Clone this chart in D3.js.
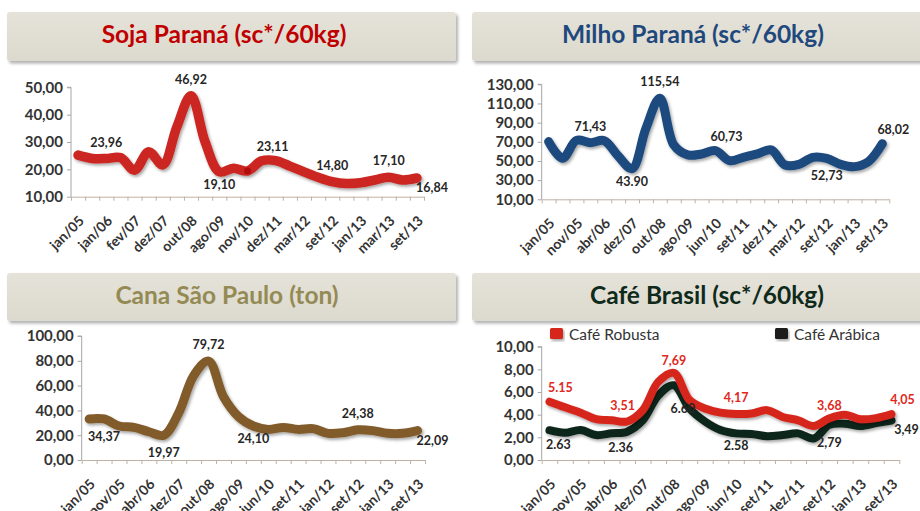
<!DOCTYPE html>
<html>
<head>
<meta charset="utf-8">
<script src="https://cdn.jsdelivr.net/npm/d3@7"></script>
<style>
  html, body { margin: 0; padding: 0; background: #fff; }
  svg { display: block; font-family: Lato, "Open Sans", sans-serif; }
</style>
</head>
<body>
<div id="chart"></div>
<script>
// ---- data ----
var sojaLabels = ["jan/05","jan/06","fev/07","dez/07","out/08","ago/09","nov/10","dez/11","mar/12","set/12","jan/13","mar/13","set/13"];
var sojaValues = [25.2, 24.0, 23.96, 24.3, 19.7, 26.4, 21.6, 35.6, 46.92, 30.0, 19.1, 20.4, 19.4,
                  23.11, 23.2, 21.2, 19.1, 17.1, 15.5, 14.8, 15.1, 16.1, 17.1, 16.1, 16.84];
var sojaNotes = [
  {i: 2, text: "23,96", pos: "above"}, {i: 8, text: "46,92", pos: "above"},
  {i: 10, text: "19,10", pos: "below"}, {i: 13, text: "23,11", pos: "aboveR"},
  {i: 18, text: "14,80", pos: "above"}, {i: 22, text: "17,10", pos: "above"},
  {i: 24, text: "16,84", pos: "right"}
];

var milhoLabels = ["jan/05","nov/05","abr/06","dez/07","out/08","ago/09","jun/10","set/11","dez/11","mar/12","set/12","jan/13","set/13"];
var milhoValues = [70.2, 52.8, 71.43, 69.1, 71.2, 55.2, 42.0, 84.1, 115.54, 66.7, 56.3, 57.3, 60.73,
                   50.3, 53.8, 57.3, 61.5, 45.8, 46.5, 53.8, 52.73, 46.5, 44.1, 49.3, 68.02];
var milhoNotes = [
  {i: 3, text: "71,43", pos: "above"}, {i: 8, text: "115,54", pos: "above"},
  {i: 6, text: "43.90", pos: "below"}, {i: 12, text: "60,73", pos: "aboveR"},
  {i: 20, text: "52,73", pos: "belowFar"}, {i: 24, text: "68,02", pos: "aboveR"}
];

var canaLabels = ["jan/05","nov/05","abr/06","dez/07","out/08","ago/09","jun/10","set/11","jan/12","set/12","jan/13","set/13"];
var canaValues = [33.1, 33.1, 27.4, 26.3, 22.8, 19.97, 38.0, 68.0, 79.72, 51.0, 35.0, 27.4,
                  24.7, 26.3, 24.7, 25.3, 21.5, 22.0, 24.38, 23.7, 21.5, 21.5, 23.7];
var canaNotes = [
  {i: 1, text: "34,37", pos: "belowFar"}, {i: 5, text: "19,97", pos: "belowFar"},
  {i: 8, text: "79,72", pos: "above"}, {i: 11, text: "24,10", pos: "below"},
  {i: 18, text: "24,38", pos: "above"}, {i: 22, text: "22,09", pos: "right"}
];

var cafeLabels = ["jan/05","nov/05","abr/06","dez/07","out/08","ago/09","jun/10","set/11","dez/11","set/12","jan/13","set/13"];
var robustaValues = [5.15, 4.65, 4.18, 3.6, 3.51, 3.4, 4.4, 6.9, 7.69, 5.3, 4.55, 4.18,
                     4.06, 4.1, 4.4, 3.8, 3.5, 3.0, 3.68, 4.0, 3.6, 3.7, 4.05];
var arabicaValues = [2.63, 2.4, 2.65, 2.2, 2.36, 2.5, 3.5, 5.7, 6.6, 4.55, 3.4, 2.65,
                     2.35, 2.3, 2.1, 2.2, 2.35, 1.9, 3.1, 3.2, 3.0, 3.25, 3.49];
var robustaNotes = [
  {i: 0, text: "5.15", pos: "aboveR"}, {i: 4, text: "3,51", pos: "aboveR"},
  {i: 8, text: "7,69", pos: "aboveNear"}, {i: 12, text: "4,17", pos: "above"},
  {i: 18, text: "3,68", pos: "aboveNear"}, {i: 22, text: "4,05", pos: "aboveR"}
];
var arabicaNotes = [
  {i: 0, text: "2.63", pos: "belowR"}, {i: 4, text: "2.36", pos: "belowR"},
  {i: 8, text: "6.60", pos: "belowFarR"}, {i: 12, text: "2.58", pos: "below"},
  {i: 18, text: "2,79", pos: "belowFar"}, {i: 22, text: "3,49", pos: "right"}
];

// ---- drawing ----
var W = 920, H = 511;
var svg = d3.select("#chart").append("svg").attr("width", W).attr("height", H);

var fmt = d3.formatLocale({decimal: ",", thousands: ".", grouping: [3], currency: ["R$", ""]}).format(".2f");

var defs = svg.append("defs");
var sh = defs.append("filter").attr("id", "lineShadow")
  .attr("x", "-10%").attr("y", "-20%").attr("width", "120%").attr("height", "140%");
sh.append("feDropShadow").attr("dx", 1.5).attr("dy", 2).attr("stdDeviation", 1.5)
  .attr("flood-color", "#000").attr("flood-opacity", 0.35);
var bs = defs.append("filter").attr("id", "boxShadow")
  .attr("x", "-5%").attr("y", "-20%").attr("width", "110%").attr("height", "150%");
bs.append("feDropShadow").attr("dx", 2).attr("dy", 2.5).attr("stdDeviation", 1.5)
  .attr("flood-color", "#000").attr("flood-opacity", 0.3);
var bg = defs.append("linearGradient").attr("id", "boxFill").attr("x1", 0).attr("y1", 0).attr("x2", 0).attr("y2", 1);
bg.append("stop").attr("offset", "0%").attr("stop-color", "#e5e2d9");
bg.append("stop").attr("offset", "100%").attr("stop-color", "#dcd9ce");

// label placement relative to the data point
var place = {
  above:     [0, -12],
  aboveNear: [0, -8],
  aboveR:    [11, -10],
  below:     [0, 17],
  belowFar:  [0, 22],
  belowR:    [9, 19],
  belowFarR: [9, 28],
  right:     [15, 14]
};

function titleBox(x, y, w, h, text, color, cx) {
  svg.append("rect").attr("x", x).attr("y", y).attr("width", w).attr("height", h)
    .attr("rx", 3).attr("fill", "url(#boxFill)").attr("filter", "url(#boxShadow)");
  svg.append("text").attr("x", cx).attr("y", y + 31)
    .attr("text-anchor", "middle").attr("font-size", 24.5).attr("font-weight", "bold")
    .attr("fill", color).text(text);
}

function panel(cfg) {
  var n = cfg.series[0].values.length;
  var g = svg.append("g");
  var xEdge = d3.scaleLinear().domain([0, n]).range([cfg.x0, cfg.x1]);
  var x = function(i) { return xEdge(i + 0.5); };
  var y = d3.scaleLinear().domain(cfg.domain).range([cfg.yBot, cfg.yTop]);

  // y axis
  var yAxis = d3.axisLeft(y).tickValues(cfg.ticks).tickFormat(fmt).tickSize(4).tickPadding(4);
  var ya = g.append("g").attr("transform", "translate(" + cfg.x0 + ",0)").call(yAxis);
  ya.select(".domain").attr("stroke", "#a6a6a6").attr("d", "M-4," + cfg.yTop + "H0V" + cfg.yBot);
  ya.selectAll(".tick line").attr("stroke", "#a6a6a6");
  ya.selectAll(".tick text").attr("font-size", 15).attr("font-weight", "bold")
    .attr("fill", "#333").attr("font-family", "Lato, sans-serif");

  // x axis: tick marks between categories
  var xAxis = d3.axisBottom(xEdge).tickValues(d3.range(n + 1)).tickFormat("").tickSize(4).tickSizeOuter(0);
  var xa = g.append("g").attr("transform", "translate(0," + cfg.yBot + ")").call(xAxis);
  xa.select(".domain").attr("stroke", "#bfb1a6");
  xa.selectAll(".tick line").attr("stroke", "#bfb1a6");

  // category labels on every second category
  g.selectAll(".xl").data(cfg.xLabels).enter().append("text")
    .attr("class", "xl")
    .attr("transform", function(d, k) {
      return "translate(" + (x(k * 2) + 0) + "," + (cfg.yBot + 18) + ") rotate(-45)";
    })
    .attr("text-anchor", "end").attr("dy", "0.7em")
    .attr("font-size", 14).attr("font-weight", "bold").attr("fill", "#333")
    .text(function(d) { return d; });

  var line = d3.line()
    .x(function(d, i) { return x(i); })
    .y(function(d) { return y(d); })
    .curve(d3.curveCatmullRom.alpha(0.5));

  cfg.series.forEach(function(s) {
    g.append("path").datum(s.values)
      .attr("fill", "none").attr("stroke", s.color).attr("stroke-width", s.width)
      .attr("stroke-linejoin", "round").attr("stroke-linecap", "round")
      .attr("filter", "url(#lineShadow)")
      .attr("d", line);
    if (s.marker != null) {
      g.append("circle").attr("cx", x(s.marker)).attr("cy", y(s.values[s.marker]))
        .attr("r", 3.5).attr("fill", "#b00d0d");
    }
  });

  cfg.series.forEach(function(s) {
    g.selectAll(null).data(s.notes).enter().append("text")
      .attr("x", function(d) { return x(d.i) + place[d.pos][0]; })
      .attr("y", function(d) { return y(s.values[d.i]) + place[d.pos][1]; })
      .attr("text-anchor", "middle").attr("font-size", 12.5).attr("font-weight", "bold")
      .attr("fill", s.noteColor)
      .text(function(d) { return d.text; });
  });
}

titleBox(7, 12, 449, 49, "Soja Paraná (sc*/60kg)", "#c00000", 224);
titleBox(472, 12, 460, 49, "Milho Paraná (sc*/60kg)", "#1f497d", 693);
titleBox(7, 273, 449, 48, "Cana São Paulo (ton)", "#948a54", 227);
titleBox(472, 273, 460, 48, "Café Brasil (sc*/60kg)", "#0f2a1a", 707);

panel({
  x0: 71, x1: 424, yTop: 87.3, yBot: 196.7, domain: [10, 50], ticks: [10, 20, 30, 40, 50],
  xLabels: sojaLabels,
  series: [{values: sojaValues, color: "#cb2720", width: 9.5, notes: sojaNotes, noteColor: "#262626", marker: 12}]
});

panel({
  x0: 541.7, x1: 889.3, yTop: 84.3, yBot: 199.3, domain: [10, 130], ticks: [10, 30, 50, 70, 90, 110, 130],
  xLabels: milhoLabels,
  series: [{values: milhoValues, color: "#1f4a7e", width: 9, notes: milhoNotes, noteColor: "#262626"}]
});

panel({
  x0: 81.7, x1: 425, yTop: 336, yBot: 460, domain: [0, 100], ticks: [0, 20, 40, 60, 80, 100],
  xLabels: canaLabels,
  series: [{values: canaValues, color: "#815b2b", width: 9, notes: canaNotes, noteColor: "#262626"}]
});

panel({
  x0: 541.7, x1: 899.3, yTop: 346.7, yBot: 460, domain: [0, 10], ticks: [0, 2, 4, 6, 8, 10],
  xLabels: cafeLabels,
  series: [
    {values: arabicaValues, color: "#10251a", width: 8, notes: arabicaNotes, noteColor: "#262626"},
    {values: robustaValues, color: "#d6281e", width: 8, notes: robustaNotes, noteColor: "#e0281c"}
  ]
});

// legend of the coffee chart
var legend = [{name: "Café Robusta", color: "#d6281e", x: 550}, {name: "Café Arábica", color: "#1a1a1a", x: 775}];
var lg = svg.selectAll(".lg").data(legend).enter().append("g").attr("class", "lg")
  .attr("transform", function(d) { return "translate(" + d.x + ",328)"; });
lg.append("rect").attr("width", 13).attr("height", 11).attr("rx", 1.5)
  .attr("fill", function(d) { return d.color; }).attr("filter", "url(#lineShadow)");
lg.append("text").attr("x", 19).attr("y", 12).attr("font-size", 15.5).attr("fill", "#333")
  .text(function(d) { return d.name; });
</script>
</body>
</html>
